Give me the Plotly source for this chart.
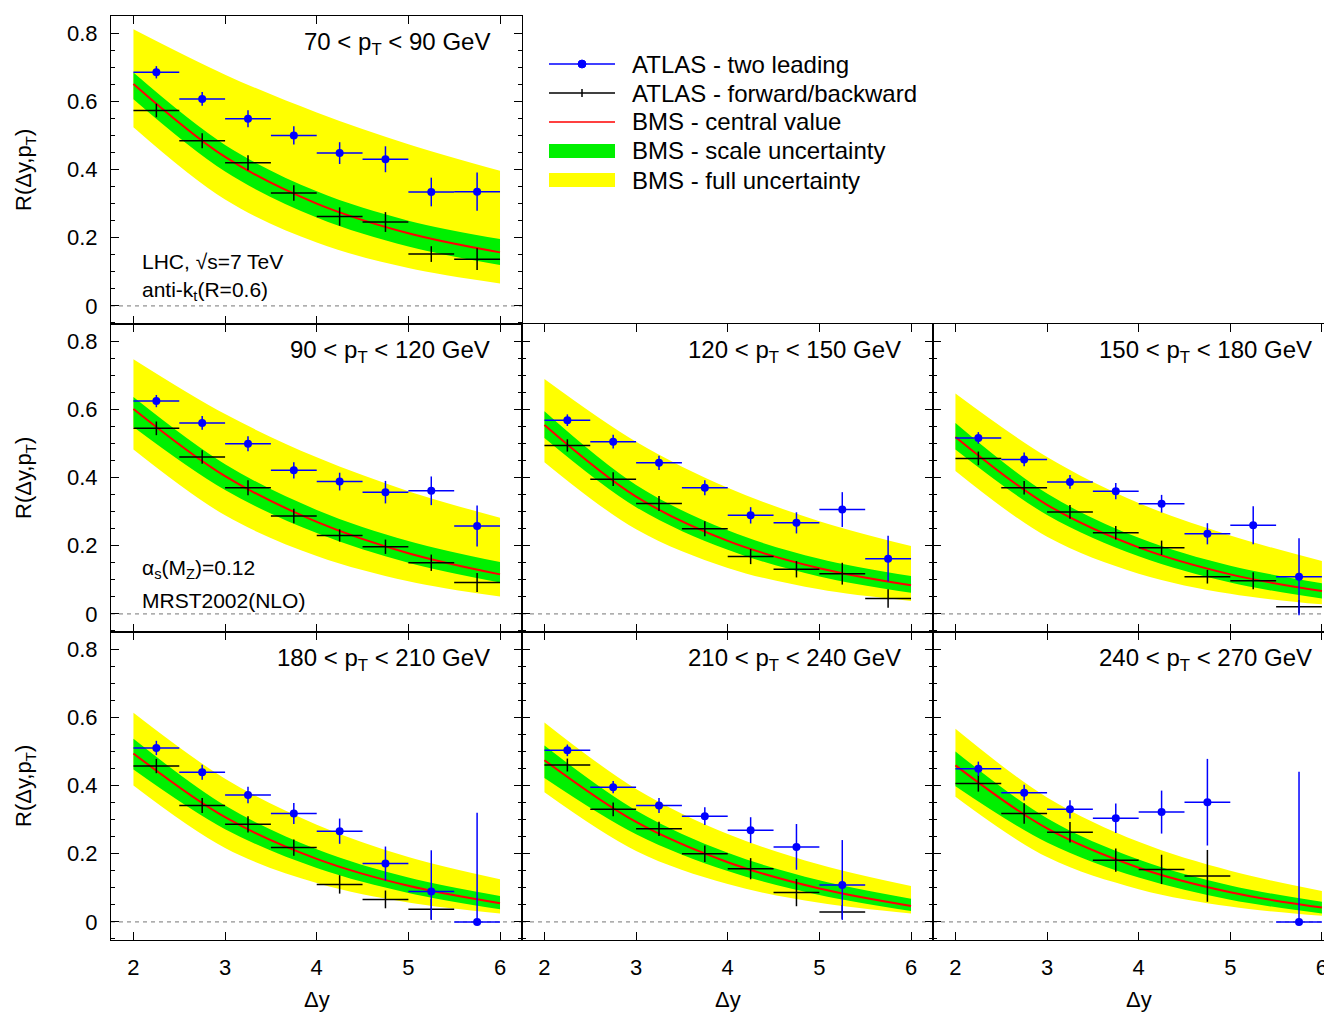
import plotly.graph_objects as go
from plotly.subplots import make_subplots

# ---------------- data ----------------
dy_bins = [2.25, 2.75, 3.25, 3.75, 4.25, 4.75, 5.25, 5.75]
bin_half = 0.25
band_dy = [2, 3, 4, 5, 6]

pt_labels = ["70 < p<sub>T</sub> < 90 GeV", "90 < p<sub>T</sub> < 120 GeV",
             "120 < p<sub>T</sub> < 150 GeV", "150 < p<sub>T</sub> < 180 GeV",
             "180 < p<sub>T</sub> < 210 GeV", "210 < p<sub>T</sub> < 240 GeV",
             "240 < p<sub>T</sub> < 270 GeV"]

# ATLAS - two leading (blue)
lead_val = [
    [0.685, 0.607, 0.549, 0.500, 0.448, 0.430, 0.334, 0.335],
    [0.624, 0.560, 0.499, 0.421, 0.388, 0.357, 0.361, 0.258],
    [0.568, 0.505, 0.443, 0.370, 0.289, 0.267, 0.306, 0.162],
    [0.516, 0.453, 0.387, 0.360, 0.323, 0.235, 0.260, 0.109],
    [0.510, 0.439, 0.372, 0.318, 0.266, 0.171, 0.089, 0.000],
    [0.503, 0.395, 0.341, 0.310, 0.269, 0.220, 0.108, None],
    [0.449, 0.379, 0.330, 0.304, 0.322, 0.351, None, 0.000],
]
lead_err_up = [
    [0.018, 0.020, 0.025, 0.027, 0.032, 0.038, 0.042, 0.056],
    [0.018, 0.020, 0.022, 0.024, 0.026, 0.033, 0.042, 0.060],
    [0.017, 0.020, 0.021, 0.022, 0.024, 0.031, 0.051, 0.067],
    [0.017, 0.020, 0.020, 0.024, 0.026, 0.031, 0.056, 0.113],
    [0.021, 0.022, 0.024, 0.031, 0.037, 0.050, 0.121, 0.320],
    [0.017, 0.018, 0.022, 0.026, 0.038, 0.067, 0.132, None],
    [0.021, 0.023, 0.027, 0.043, 0.063, 0.127, None, 0.440],
]
lead_err_down = [
    [0.018, 0.020, 0.025, 0.027, 0.032, 0.038, 0.042, 0.056],
    [0.018, 0.020, 0.022, 0.024, 0.026, 0.033, 0.042, 0.060],
    [0.017, 0.020, 0.021, 0.022, 0.024, 0.031, 0.051, 0.067],
    [0.017, 0.020, 0.020, 0.024, 0.026, 0.031, 0.056, 0.113],
    [0.021, 0.022, 0.024, 0.031, 0.037, 0.050, 0.083, 0.000],
    [0.017, 0.018, 0.022, 0.026, 0.038, 0.067, 0.102, None],
    [0.021, 0.023, 0.027, 0.043, 0.063, 0.127, None, 0.000],
]

# ATLAS - forward/backward (black)
fb_val = [
    [0.573, 0.484, 0.420, 0.331, 0.262, 0.246, 0.152, 0.137],
    [0.544, 0.460, 0.370, 0.287, 0.230, 0.197, 0.150, 0.092],
    [0.494, 0.395, 0.324, 0.250, 0.168, 0.131, 0.118, 0.045],
    [0.456, 0.370, 0.299, 0.238, 0.194, 0.109, 0.097, 0.021],
    [0.457, 0.341, 0.286, 0.218, 0.110, 0.066, 0.037, None],
    [0.460, 0.330, 0.273, 0.200, 0.156, 0.086, 0.029, None],
    [0.406, 0.318, 0.263, 0.181, 0.154, 0.135, None, None],
]
fb_err = [
    [0.020, 0.022, 0.022, 0.023, 0.027, 0.029, 0.023, 0.032],
    [0.020, 0.020, 0.022, 0.021, 0.018, 0.021, 0.024, 0.028],
    [0.018, 0.020, 0.022, 0.022, 0.022, 0.024, 0.032, 0.027],
    [0.020, 0.020, 0.020, 0.020, 0.021, 0.020, 0.025, 0.020],
    [0.021, 0.022, 0.024, 0.024, 0.027, 0.026, 0.030, None],
    [0.019, 0.020, 0.021, 0.024, 0.031, 0.040, 0.020, None],
    [0.024, 0.030, 0.030, 0.034, 0.043, 0.076, None, None],
]

# BMS curves at band_dy
bms_central = [
    [0.651, 0.437, 0.300, 0.213, 0.157],
    [0.601, 0.404, 0.270, 0.178, 0.116],
    [0.554, 0.344, 0.214, 0.134, 0.084],
    [0.519, 0.320, 0.195, 0.116, 0.067],
    [0.494, 0.307, 0.185, 0.106, 0.055],
    [0.474, 0.293, 0.175, 0.098, 0.047],
    [0.459, 0.274, 0.159, 0.087, 0.042],
]
bms_scale_hi = [
    [0.684, 0.472, 0.336, 0.250, 0.196],
    [0.636, 0.439, 0.305, 0.214, 0.152],
    [0.594, 0.378, 0.245, 0.162, 0.111],
    [0.560, 0.353, 0.223, 0.141, 0.090],
    [0.537, 0.341, 0.213, 0.130, 0.076],
    [0.517, 0.327, 0.203, 0.122, 0.068],
    [0.500, 0.304, 0.183, 0.107, 0.059],
]
bms_scale_lo = [
    [0.606, 0.394, 0.259, 0.174, 0.120],
    [0.548, 0.363, 0.237, 0.150, 0.092],
    [0.516, 0.313, 0.188, 0.110, 0.062],
    [0.482, 0.290, 0.169, 0.092, 0.045],
    [0.447, 0.272, 0.158, 0.085, 0.037],
    [0.422, 0.257, 0.149, 0.079, 0.032],
    [0.398, 0.233, 0.130, 0.065, 0.025],
]
bms_full_hi = [
    [0.811, 0.678, 0.567, 0.474, 0.396],
    [0.747, 0.586, 0.459, 0.360, 0.282],
    [0.689, 0.505, 0.370, 0.272, 0.199],
    [0.646, 0.460, 0.325, 0.230, 0.155],
    [0.613, 0.420, 0.285, 0.190, 0.125],
    [0.585, 0.390, 0.258, 0.168, 0.105],
    [0.566, 0.365, 0.235, 0.150, 0.091],
]
bms_full_lo = [
    [0.524, 0.312, 0.186, 0.111, 0.066],
    [0.482, 0.289, 0.170, 0.096, 0.051],
    [0.445, 0.248, 0.135, 0.072, 0.038],
    [0.419, 0.226, 0.118, 0.059, 0.028],
    [0.400, 0.217, 0.114, 0.057, 0.025],
    [0.380, 0.208, 0.111, 0.056, 0.025],
    [0.367, 0.190, 0.096, 0.045, 0.018],
]

y_ticks = [0, 0.2, 0.4, 0.6, 0.8]
x_ticks = [2, 3, 4, 5, 6]

# ---------------- figure ----------------
FONT = "Liberation Sans, Arial, Helvetica, sans-serif"
YELLOW = "#ffff00"
GREEN = "#00f000"
RED = "#ff0000"
BLUE = "#0000ff"

# page offset (browser body margin) compensation
OFF = 8
FIG_W, FIG_H = 1332 - OFF, 1012 - OFF
L, T, W, H = 111 - OFF, 16 - OFF, 1221, 924

panel_pos = [(1, 1), (2, 1), (2, 2), (2, 3), (3, 1), (3, 2), (3, 3)]

fig = make_subplots(rows=3, cols=3,
                    specs=[[{}, None, None], [{}, {}, {}], [{}, {}, {}]],
                    horizontal_spacing=0, vertical_spacing=0,
                    column_widths=[411, 411, 399])

for i, (r, c) in enumerate(panel_pos):
    fig.add_trace(go.Scatter(x=band_dy, y=bms_full_lo[i], mode="lines",
                             line=dict(width=0, color=YELLOW, shape="spline"),
                             hoverinfo="skip", showlegend=False), row=r, col=c)
    fig.add_trace(go.Scatter(x=band_dy, y=bms_full_hi[i], mode="lines",
                             line=dict(width=0, color=YELLOW, shape="spline"),
                             fill="tonexty", fillcolor=YELLOW,
                             hoverinfo="skip", showlegend=False), row=r, col=c)
    fig.add_trace(go.Scatter(x=band_dy, y=bms_scale_lo[i], mode="lines",
                             line=dict(width=0, color=GREEN, shape="spline"),
                             hoverinfo="skip", showlegend=False), row=r, col=c)
    fig.add_trace(go.Scatter(x=band_dy, y=bms_scale_hi[i], mode="lines",
                             line=dict(width=0, color=GREEN, shape="spline"),
                             fill="tonexty", fillcolor=GREEN,
                             hoverinfo="skip", showlegend=False), row=r, col=c)
    fig.add_trace(go.Scatter(x=band_dy, y=bms_central[i], mode="lines",
                             line=dict(width=2, color=RED, shape="spline"),
                             showlegend=False), row=r, col=c)
    fig.add_trace(go.Scatter(x=dy_bins, y=fb_val[i], mode="markers",
                             marker=dict(size=1, color="black"),
                             error_x=dict(type="constant", value=bin_half, color="black",
                                          thickness=1.5, width=0),
                             error_y=dict(type="data", array=fb_err[i], color="black",
                                          thickness=1.5, width=0),
                             showlegend=False), row=r, col=c)
    fig.add_trace(go.Scatter(x=dy_bins, y=lead_val[i], mode="markers",
                             marker=dict(size=8, color=BLUE),
                             error_x=dict(type="constant", value=bin_half, color=BLUE,
                                          thickness=1.5, width=0),
                             error_y=dict(type="data", symmetric=False,
                                          array=lead_err_up[i], arrayminus=lead_err_down[i],
                                          color=BLUE, thickness=1.5, width=0),
                             showlegend=False), row=r, col=c)
    fig.add_hline(y=0, row=r, col=c, line=dict(color="#777777", width=1, dash="4px,4px"),
                  layer="below")

    xr = [1.755, 6.11] if c == 3 else [1.755, 6.24]
    fig.update_xaxes(range=xr, tickvals=x_ticks, ticks="inside", ticklen=8, tickwidth=1.2,
                     tickcolor="black", showline=True, linecolor="black", linewidth=1,
                     mirror="ticks", showgrid=False, zeroline=False,
                     showticklabels=(r == 3), ticklabelstandoff=8,
                     tickfont=dict(family=FONT, size=22, color="black"),
                     row=r, col=c)
    fig.update_yaxes(range=[-0.053, 0.85], tickvals=y_ticks, ticks="inside", ticklen=8,
                     tickwidth=1.2, tickcolor="black",
                     minor=dict(dtick=0.05, tick0=0, ticks="inside", ticklen=4,
                                tickwidth=1.2, tickcolor="black"),
                     showline=True, linecolor="black", linewidth=1,
                     mirror=("ticks" if c != 3 else False), showgrid=False, zeroline=False,
                     showticklabels=(c == 1), ticklabelstandoff=8,
                     tickfont=dict(family=FONT, size=22, color="black"),
                     row=r, col=c)

    sp = fig.get_subplot(r, c)
    xa = sp.xaxis.plotly_name.replace("axis", "")
    ya = sp.yaxis.plotly_name.replace("axis", "")
    fig.add_annotation(x=5.91, y=0.77, xref=xa, yref=ya, text=pt_labels[i],
                       showarrow=False, xanchor="right", yanchor="middle",
                       font=dict(family=FONT, size=24, color="black"))
    if i == 0:
        fig.add_annotation(x=2.07, y=0.129, xref=xa, yref=ya, text="LHC, √s=7 TeV",
                           showarrow=False, xanchor="left", yanchor="middle",
                           font=dict(family=FONT, size=21, color="black"))
        fig.add_annotation(x=2.07, y=0.044, xref=xa, yref=ya, text="anti-k<sub>t</sub>(R=0.6)",
                           showarrow=False, xanchor="left", yanchor="middle",
                           font=dict(family=FONT, size=21, color="black"))
    if i == 1:
        fig.add_annotation(x=2.07, y=0.131, xref=xa, yref=ya,
                           text="α<sub>s</sub>(M<sub>Z</sub>)=0.12",
                           showarrow=False, xanchor="left", yanchor="middle",
                           font=dict(family=FONT, size=21, color="black"))
        fig.add_annotation(x=2.07, y=0.040, xref=xa, yref=ya, text="MRST2002(NLO)",
                           showarrow=False, xanchor="left", yanchor="middle",
                           font=dict(family=FONT, size=21, color="black"))


def px(xp):
    # page pixel x -> paper coordinate
    return (xp - OFF - L) / W


def py(yp):
    # page pixel y -> paper coordinate
    return (T + H - (yp - OFF)) / H


for yc in (170, 478, 786):
    fig.add_annotation(x=px(25), y=py(yc), xref="paper", yref="paper",
                       text="R(Δy,p<sub>T</sub>)", textangle=-90, showarrow=False,
                       xanchor="center", yanchor="middle",
                       font=dict(family=FONT, size=22, color="black"))
for xc in (317, 728, 1139):
    fig.add_annotation(x=px(xc), y=py(999), xref="paper", yref="paper",
                       text="Δy", showarrow=False, xanchor="center", yanchor="middle",
                       font=dict(family=FONT, size=22, color="black"))

# manual legend
leg_names = ["ATLAS - two leading", "ATLAS - forward/backward", "BMS - central value",
             "BMS - scale uncertainty", "BMS - full uncertainty"]
rows_y = [64, 93, 122, 151, 180]
x0s, x1s, xm = 549, 615, 582
shapes = []
shapes.append(dict(type="line", xref="paper", yref="paper", x0=px(x0s), x1=px(x1s),
                   y0=py(rows_y[0]), y1=py(rows_y[0]), line=dict(color=BLUE, width=1.5)))
shapes.append(dict(type="circle", xref="paper", yref="paper", xsizemode="pixel",
                   ysizemode="pixel", xanchor=px(xm), yanchor=py(rows_y[0]),
                   x0=-4, x1=4, y0=-4, y1=4, fillcolor=BLUE, line=dict(color=BLUE, width=1)))
shapes.append(dict(type="line", xref="paper", yref="paper", x0=px(x0s), x1=px(x1s),
                   y0=py(rows_y[1]), y1=py(rows_y[1]), line=dict(color="black", width=1.5)))
shapes.append(dict(type="line", xref="paper", yref="paper", x0=px(xm), x1=px(xm),
                   y0=py(rows_y[1] - 4), y1=py(rows_y[1] + 4), line=dict(color="black", width=1.5)))
shapes.append(dict(type="line", xref="paper", yref="paper", x0=px(x0s), x1=px(x1s),
                   y0=py(rows_y[2]), y1=py(rows_y[2]), line=dict(color=RED, width=1.5)))
shapes.append(dict(type="rect", xref="paper", yref="paper", x0=px(x0s), x1=px(x1s),
                   y0=py(rows_y[3] - 7), y1=py(rows_y[3] + 7), fillcolor=GREEN, line=dict(width=0)))
shapes.append(dict(type="rect", xref="paper", yref="paper", x0=px(x0s), x1=px(x1s),
                   y0=py(rows_y[4] - 7), y1=py(rows_y[4] + 7), fillcolor=YELLOW, line=dict(width=0)))
for s in shapes:
    fig.add_shape(**s)
for name, yy in zip(leg_names, rows_y):
    fig.add_annotation(x=px(630), y=py(yy), xref="paper", yref="paper", text=name,
                       showarrow=False, xanchor="left", yanchor="middle",
                       font=dict(family=FONT, size=24, color="black"))

fig.update_layout(width=FIG_W, height=FIG_H,
                  margin=dict(l=L, r=FIG_W - L - W, t=T, b=FIG_H - T - H, pad=0),
                  paper_bgcolor="white", plot_bgcolor="white",
                  font=dict(family=FONT, color="black"),
                  showlegend=False)

fig.write_html("out.html")
